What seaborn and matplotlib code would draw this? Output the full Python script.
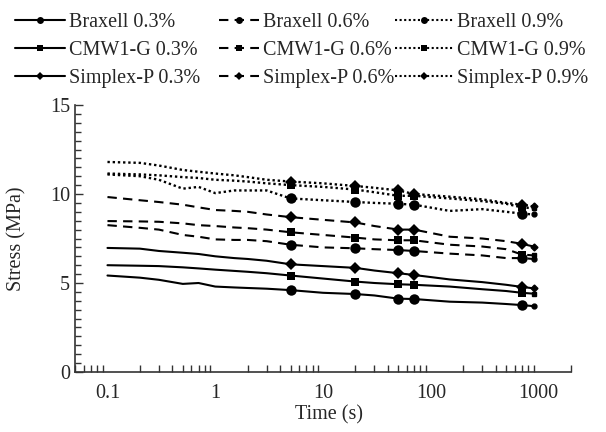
import numpy as np
import pandas as pd
import matplotlib
matplotlib.use("Agg")
import matplotlib.pyplot as plt
import seaborn as sns
from matplotlib.lines import Line2D
from matplotlib.ticker import MultipleLocator, LogLocator, NullFormatter

sns.set_style("ticks")
plt.rcParams['font.family'] = ['Liberation Serif', 'DejaVu Serif']

time_s = [0.1, 0.2, 0.3, 0.5, 0.7, 1, 1.5, 2, 3, 5, 10, 20, 30, 50, 70, 150, 300, 500, 700, 900]

braxell_03 = [5.42, 5.30, 5.18, 4.95, 5.00, 4.80, 4.75, 4.72, 4.68, 4.60, 4.45, 4.38, 4.30, 4.12, 4.10, 3.95, 3.90, 3.82, 3.76, 3.70]
braxell_06 = [8.25, 8.10, 8.00, 7.70, 7.60, 7.45, 7.42, 7.42, 7.35, 7.15, 7.00, 6.95, 6.90, 6.85, 6.80, 6.65, 6.55, 6.40, 6.40, 6.35]
braxell_09 = [11.10, 11.00, 10.80, 10.30, 10.40, 10.05, 10.20, 10.20, 10.20, 9.75, 9.65, 9.55, 9.50, 9.45, 9.40, 9.05, 9.15, 9.00, 8.90, 8.85]
cmw_03 = [6.00, 5.97, 5.95, 5.88, 5.82, 5.75, 5.68, 5.63, 5.55, 5.42, 5.25, 5.08, 5.00, 4.93, 4.90, 4.80, 4.65, 4.55, 4.45, 4.40]
cmw_06 = [8.48, 8.46, 8.44, 8.35, 8.25, 8.20, 8.12, 8.08, 8.00, 7.85, 7.70, 7.55, 7.45, 7.40, 7.40, 7.15, 7.05, 6.90, 6.60, 6.55]
cmw_09 = [11.15, 11.10, 11.05, 10.95, 10.90, 10.80, 10.75, 10.70, 10.60, 10.50, 10.40, 10.25, 10.10, 9.90, 9.90, 9.75, 9.60, 9.45, 9.25, 9.20]
simplex_03 = [6.97, 6.93, 6.80, 6.70, 6.63, 6.50, 6.40, 6.35, 6.25, 6.05, 5.95, 5.85, 5.70, 5.55, 5.45, 5.20, 5.05, 4.90, 4.78, 4.70]
simplex_06 = [9.83, 9.65, 9.55, 9.40, 9.25, 9.10, 9.05, 9.00, 8.85, 8.70, 8.55, 8.40, 8.20, 8.00, 8.00, 7.60, 7.50, 7.35, 7.20, 7.05]
simplex_09 = [11.80, 11.75, 11.60, 11.35, 11.25, 11.15, 11.05, 10.95, 10.80, 10.70, 10.60, 10.45, 10.35, 10.20, 10.00, 9.85, 9.70, 9.50, 9.40, 9.30]

materials = ["Braxell", "CMW1-G", "Simplex-P"]
strains = ["0.3%", "0.6%", "0.9%"]
series = {
    ("Braxell", "0.3%"): braxell_03, ("Braxell", "0.6%"): braxell_06, ("Braxell", "0.9%"): braxell_09,
    ("CMW1-G", "0.3%"): cmw_03, ("CMW1-G", "0.6%"): cmw_06, ("CMW1-G", "0.9%"): cmw_09,
    ("Simplex-P", "0.3%"): simplex_03, ("Simplex-P", "0.6%"): simplex_06, ("Simplex-P", "0.9%"): simplex_09,
}
marker_times = [5, 20, 50, 70, 700]

markers = {"Braxell": "o", "CMW1-G": "s", "Simplex-P": "D"}
msizes = {"Braxell": 7.5, "CMW1-G": 6.0, "Simplex-P": 6.0}
styles = {"0.3%": "-", "0.6%": (0, (4.5, 3)), "0.9%": (0, (1, 1.2))}

fig = plt.figure(figsize=(6.06, 4.32), dpi=100)
ax = fig.add_axes([0.1238, 0.1389, 0.8185, 0.618])

mk_idx = [time_s.index(t) for t in marker_times]
for (mat, st), vals in series.items():
    df = pd.DataFrame({"Time": time_s, "Stress": vals})
    sns.lineplot(data=df, x="Time", y="Stress", ax=ax, color="black",
                 linestyle=styles[st], linewidth=1.5 if st != "0.9%" else 1.7,
                 marker=markers[mat], markersize=msizes[mat], markevery=mk_idx,
                 markeredgewidth=0, estimator=None, sort=False, legend=False)
    ax.plot([time_s[-1]], [vals[-1]], marker=markers[mat], markersize=3.5,
            color="black", linestyle="none")

ax.set_xscale("log")
ax.set_xlim(0.05, 2000)
ax.set_ylim(0, 15)
ax.set_xticks([0.1, 1, 10, 100, 1000])
ax.set_xticklabels(["0.1", "1", "10", "100", "1000"])
ax.xaxis.set_minor_locator(LogLocator(base=10, subs=np.arange(2, 10)))
ax.xaxis.set_minor_formatter(NullFormatter())
ax.set_yticks([0, 5, 10, 15])
ax.yaxis.set_minor_locator(MultipleLocator(0.5))
ax.tick_params(which="both", direction="in", color="#333333", labelsize=14.5)
ax.tick_params(which="major", length=6, width=1)
ax.tick_params(which="minor", length=4, width=1)
ax.tick_params(axis="x", which="major", length=0, pad=9)
ax.tick_params(axis="x", which="minor", length=5)
for s in ["top", "right"]:
    ax.spines[s].set_visible(False)
for s in ["left", "bottom"]:
    ax.spines[s].set_color("#333333")
    ax.spines[s].set_linewidth(1.2)
ax.set_xlabel("Time (s)", fontsize=14.5)
ax.set_ylabel("Stress (MPa)", fontsize=14.5)
ax.xaxis.set_label_coords(0.512, -0.125)
ax.yaxis.set_label_coords(-0.098, 0.5)

# one legend per strain column
col_x = {"0.3%": 15 / 606, "0.6%": 219 / 606, "0.9%": 395 / 606}
col_hl = {"0.3%": 2.5, "0.6%": 2.0, "0.9%": 2.9}
for st in strains:
    handles, labels = [], []
    for mat in materials:
        handles.append(Line2D([], [], color="black", linestyle=styles[st], linewidth=1.5,
                              marker=markers[mat], markersize=5 if mat == "Braxell" else 4,
                              markeredgewidth=0))
        labels.append(f"{mat} {st}")
    leg = fig.legend(handles, labels, loc="upper left", bbox_to_anchor=(col_x[st], 0.970),
                     frameon=False, fontsize=14.5, handlelength=col_hl[st], handletextpad=0.2,
                     labelspacing=0.43, borderpad=0, borderaxespad=0)

fig.savefig("out.png", dpi=100)
